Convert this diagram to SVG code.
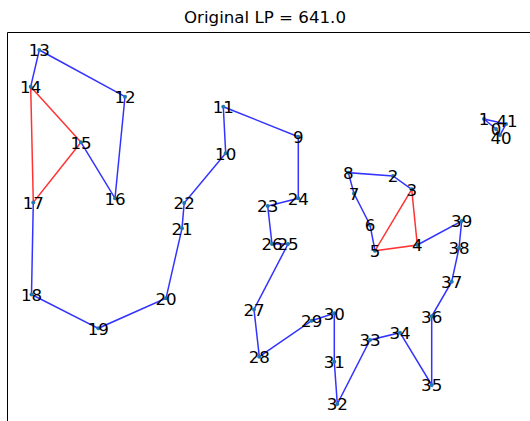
<svg xmlns="http://www.w3.org/2000/svg" width="530" height="421" viewBox="0 0 530 421">
  <style>
    .title { font-family: "DejaVu Sans", sans-serif; font-size: 16.67px; fill: #000; text-anchor: middle; }
    .lbl { font-family: "DejaVu Sans", sans-serif; font-size: 16.67px; fill: #000; text-anchor: middle; }
    .pt { fill: #1f77b4; }
    .blue { stroke: #0000ff; stroke-opacity: 0.8; stroke-width: 1.5; fill: none; }
    .red { stroke: #ff0000; stroke-opacity: 0.8; stroke-width: 1.5; fill: none; }
    .spine { stroke: #000; stroke-width: 1; fill: none; }
  </style>
  <rect width="530" height="421" fill="#fff"/>
  <text class="title" x="265" y="22.5">Original LP = 641.0</text>
  <path class="spine" d="M7.5,421 V32.5 H530"/>

  <g id="connectors">
    <!-- main path -->
    <polyline class="blue" points="411.7,189.3 393,176 348.3,172.7 354,193.5 370,225 375,250.7"/>
    <polyline class="blue" points="417.3,245 461.7,221 459,248 451.7,281.7 431.7,316.3 431.7,385 400,332.7 370,340 337.3,404 334.3,361.7 334.3,313.3 311.7,320.7 259.3,356.7 254,309.5 288,244 272,244 267.7,206 298.3,198.3 298.3,136.7 223.3,106.7 225.7,153.3 184.2,203 182,228.3 166,298.3 98.3,328.3 31.5,294.5 33.3,202.5"/>
    <polyline class="blue" points="81,142.3 115,198.3 125,96.7 39.3,50 30.7,86.7"/>
    <!-- small cluster -->
    <polyline class="blue" points="484,119 506,124 500,135 496,129 484,119"/>
    <!-- fractional edges -->
    <polygon class="red" points="30.7,86.7 81,142.3 33.3,202.5"/>
    <polygon class="red" points="411.7,189.3 417.3,245 375,250.7"/>
  </g>

  <g id="n0"><circle class="pt" cx="496" cy="129" r="2"/><text class="lbl" x="496" y="135.3">0</text></g>
  <g id="n1"><circle class="pt" cx="484" cy="119" r="2"/><text class="lbl" x="484" y="125.3">1</text></g>
  <g id="n2"><circle class="pt" cx="393" cy="176" r="2"/><text class="lbl" x="393" y="182.3">2</text></g>
  <g id="n3"><circle class="pt" cx="411.7" cy="189.3" r="2"/><text class="lbl" x="411.7" y="195.6">3</text></g>
  <g id="n4"><circle class="pt" cx="417.3" cy="245" r="2"/><text class="lbl" x="417.3" y="251.3">4</text></g>
  <g id="n5"><circle class="pt" cx="375" cy="250.7" r="2"/><text class="lbl" x="375" y="257">5</text></g>
  <g id="n6"><circle class="pt" cx="370" cy="225" r="2"/><text class="lbl" x="370" y="231.3">6</text></g>
  <g id="n7"><circle class="pt" cx="354" cy="193.5" r="2"/><text class="lbl" x="354" y="199.8">7</text></g>
  <g id="n8"><circle class="pt" cx="348.3" cy="172.7" r="2"/><text class="lbl" x="348.3" y="179">8</text></g>
  <g id="n9"><circle class="pt" cx="298.3" cy="136.7" r="2"/><text class="lbl" x="298.3" y="143">9</text></g>
  <g id="n10"><circle class="pt" cx="225.7" cy="153.3" r="2"/><text class="lbl" x="225.7" y="159.6">10</text></g>
  <g id="n11"><circle class="pt" cx="223.3" cy="106.7" r="2"/><text class="lbl" x="223.3" y="113">11</text></g>
  <g id="n12"><circle class="pt" cx="125" cy="96.7" r="2"/><text class="lbl" x="125" y="103">12</text></g>
  <g id="n13"><circle class="pt" cx="39.3" cy="50" r="2"/><text class="lbl" x="39.3" y="56.3">13</text></g>
  <g id="n14"><circle class="pt" cx="30.7" cy="86.7" r="2"/><text class="lbl" x="30.7" y="93">14</text></g>
  <g id="n15"><circle class="pt" cx="81" cy="142.3" r="2"/><text class="lbl" x="81" y="148.6">15</text></g>
  <g id="n16"><circle class="pt" cx="115" cy="198.3" r="2"/><text class="lbl" x="115" y="204.6">16</text></g>
  <g id="n17"><circle class="pt" cx="33.3" cy="202.5" r="2"/><text class="lbl" x="33.3" y="208.8">17</text></g>
  <g id="n18"><circle class="pt" cx="31.5" cy="294.5" r="2"/><text class="lbl" x="31.5" y="300.8">18</text></g>
  <g id="n19"><circle class="pt" cx="98.3" cy="328.3" r="2"/><text class="lbl" x="98.3" y="334.6">19</text></g>
  <g id="n20"><circle class="pt" cx="166" cy="298.3" r="2"/><text class="lbl" x="166" y="304.6">20</text></g>
  <g id="n21"><circle class="pt" cx="182" cy="228.3" r="2"/><text class="lbl" x="182" y="234.6">21</text></g>
  <g id="n22"><circle class="pt" cx="184.2" cy="203" r="2"/><text class="lbl" x="184.2" y="209.3">22</text></g>
  <g id="n23"><circle class="pt" cx="267.7" cy="206" r="2"/><text class="lbl" x="267.7" y="212.3">23</text></g>
  <g id="n24"><circle class="pt" cx="298.3" cy="198.3" r="2"/><text class="lbl" x="298.3" y="204.6">24</text></g>
  <g id="n25"><circle class="pt" cx="288" cy="244" r="2"/><text class="lbl" x="288" y="250.3">25</text></g>
  <g id="n26"><circle class="pt" cx="272" cy="244" r="2"/><text class="lbl" x="272" y="250.3">26</text></g>
  <g id="n27"><circle class="pt" cx="254" cy="309.5" r="2"/><text class="lbl" x="254" y="315.8">27</text></g>
  <g id="n28"><circle class="pt" cx="259.3" cy="356.7" r="2"/><text class="lbl" x="259.3" y="363">28</text></g>
  <g id="n29"><circle class="pt" cx="311.7" cy="320.7" r="2"/><text class="lbl" x="311.7" y="327">29</text></g>
  <g id="n30"><circle class="pt" cx="334.3" cy="313.3" r="2"/><text class="lbl" x="334.3" y="319.6">30</text></g>
  <g id="n31"><circle class="pt" cx="334.3" cy="361.7" r="2"/><text class="lbl" x="334.3" y="368">31</text></g>
  <g id="n32"><circle class="pt" cx="337.3" cy="404" r="2"/><text class="lbl" x="337.3" y="410.3">32</text></g>
  <g id="n33"><circle class="pt" cx="370" cy="340" r="2"/><text class="lbl" x="370" y="346.3">33</text></g>
  <g id="n34"><circle class="pt" cx="400" cy="332.7" r="2"/><text class="lbl" x="400" y="339">34</text></g>
  <g id="n35"><circle class="pt" cx="431.7" cy="385" r="2"/><text class="lbl" x="431.7" y="391.3">35</text></g>
  <g id="n36"><circle class="pt" cx="431.7" cy="316.3" r="2"/><text class="lbl" x="431.7" y="322.6">36</text></g>
  <g id="n37"><circle class="pt" cx="451.7" cy="281.7" r="2"/><text class="lbl" x="451.7" y="288">37</text></g>
  <g id="n38"><circle class="pt" cx="459" cy="248" r="2"/><text class="lbl" x="459" y="254.3">38</text></g>
  <g id="n39"><circle class="pt" cx="461.7" cy="221" r="2"/><text class="lbl" x="461.7" y="227.3">39</text></g>
  <g id="n40"><circle class="pt" cx="500" cy="135" r="2"/><text class="lbl" x="501" y="144.3">40</text></g>
  <g id="n41"><circle class="pt" cx="506" cy="124" r="2"/><text class="lbl" x="507" y="127.3">41</text></g>
</svg>
